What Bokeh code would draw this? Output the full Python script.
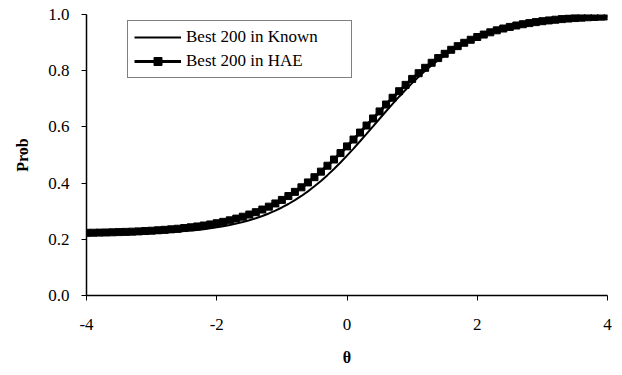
from bokeh.plotting import figure
from bokeh.models import Range1d, FixedTicker, Legend, LegendItem, CustomJSTickFormatter
from bokeh.embed import file_html
from bokeh.resources import INLINE

theta = [round(-4 + 0.1 * i, 1) for i in range(81)]

known = [
    0.2168, 0.2171, 0.2174, 0.2178, 0.2182, 0.2186, 0.2192, 0.2198, 0.2205, 0.2213,
    0.2222, 0.2232, 0.2244, 0.2258, 0.2273, 0.2291, 0.2312, 0.2335, 0.2361, 0.2391,
    0.2425, 0.2464, 0.2508, 0.2558, 0.2614, 0.2678, 0.2749, 0.2830, 0.2920, 0.3021,
    0.3132, 0.3256, 0.3393, 0.3543, 0.3707, 0.3885, 0.4077, 0.4283, 0.4503, 0.4734,
    0.4977, 0.5229, 0.5489, 0.5754, 0.6022, 0.6291, 0.6557, 0.6820, 0.7075, 0.7322,
    0.7558, 0.7782, 0.7994, 0.8191, 0.8375, 0.8545, 0.8700, 0.8842, 0.8971, 0.9087,
    0.9192, 0.9286, 0.9370, 0.9445, 0.9512, 0.9571, 0.9623, 0.9670, 0.9710, 0.9746,
    0.9778, 0.9805, 0.9829, 0.9851, 0.9870, 0.9886, 0.9900, 0.9913, 0.9924, 0.9934,
    0.9942,
]

hae = [
    0.2230, 0.2234, 0.2238, 0.2243, 0.2249, 0.2256, 0.2264, 0.2272, 0.2282, 0.2294,
    0.2306, 0.2321, 0.2337, 0.2355, 0.2376, 0.2400, 0.2427, 0.2457, 0.2491, 0.2529,
    0.2572, 0.2621, 0.2675, 0.2736, 0.2804, 0.2881, 0.2965, 0.3059, 0.3162, 0.3276,
    0.3402, 0.3539, 0.3688, 0.3850, 0.4024, 0.4210, 0.4408, 0.4618, 0.4839, 0.5068,
    0.5306, 0.5550, 0.5798, 0.6049, 0.6300, 0.6550, 0.6797, 0.7037, 0.7270, 0.7495,
    0.7708, 0.7911, 0.8103, 0.8282, 0.8449, 0.8602, 0.8744, 0.8874, 0.8993, 0.9101,
    0.9199, 0.9286, 0.9366, 0.9437, 0.9501, 0.9558, 0.9608, 0.9654, 0.9694, 0.9729,
    0.9762, 0.9789, 0.9814, 0.9836, 0.9856, 0.9873, 0.9888, 0.9902, 0.9913, 0.9924,
    0.9933,
]

x_ticks = [-4, -2, 0, 2, 4]
y_ticks = [0.0, 0.2, 0.4, 0.6, 0.8, 1.0]
series_names = ["Best 200 in Known", "Best 200 in HAE"]

FONT = "Liberation Serif"

p = figure(width=614, height=370, output_backend="svg", toolbar_location=None,
           x_range=Range1d(-4, 4), y_range=Range1d(0, 1.0),
           min_border_left=86, min_border_right=7, min_border_top=14, min_border_bottom=75)
p.outline_line_color = None
p.xgrid.visible = False
p.ygrid.visible = False
p.background_fill_color = "white"
p.border_fill_color = "white"

r_known = p.line(theta, known, line_color="black", line_width=2)
r_hae_line = p.line(theta, hae, line_color="black", line_width=3)
r_hae_pts = p.scatter(theta, hae, marker="square", size=7, fill_color="black", line_color="black")

p.xaxis.ticker = FixedTicker(ticks=x_ticks)
p.yaxis.ticker = FixedTicker(ticks=y_ticks)
p.xaxis.formatter = CustomJSTickFormatter(code="return tick.toFixed(0);")
p.yaxis.formatter = CustomJSTickFormatter(code="return tick.toFixed(1);")
for ax in (p.xaxis[0], p.yaxis[0]):
    ax.axis_line_color = "black"
    ax.axis_line_width = 1.5
    ax.major_tick_line_color = "black"
    ax.major_tick_in = 0
    ax.major_tick_out = 5
    ax.minor_tick_line_color = None
    ax.major_label_text_font = FONT
    ax.major_label_text_font_size = "17px"
    ax.major_label_text_color = "black"
    ax.axis_label_text_font = FONT
    ax.axis_label_text_font_size = "16px"
    ax.axis_label_text_font_style = "bold"
    ax.axis_label_text_color = "black"

p.xaxis.axis_label = "θ"
p.yaxis.axis_label = "Prob"
p.xaxis.major_label_standoff = 18
p.xaxis.axis_label_standoff = 16
p.yaxis.major_label_standoff = 12
p.yaxis.axis_label_standoff = 14

legend = Legend(items=[
    LegendItem(label=series_names[0], renderers=[r_known]),
    LegendItem(label=series_names[1], renderers=[r_hae_line, r_hae_pts]),
], location=(41, 217))
legend.border_line_color = "black"
legend.border_line_width = 1
legend.background_fill_alpha = 1
legend.label_text_font = FONT
legend.label_text_font_size = "17px"
legend.label_text_color = "black"
legend.glyph_width = 47
legend.glyph_height = 20
legend.label_height = 20
legend.label_width = 159
legend.label_standoff = 5
legend.spacing = 4
legend.padding = 6
legend.margin = 0
p.add_layout(legend, "center")

open("out.html", "w").write(file_html(p, INLINE))
